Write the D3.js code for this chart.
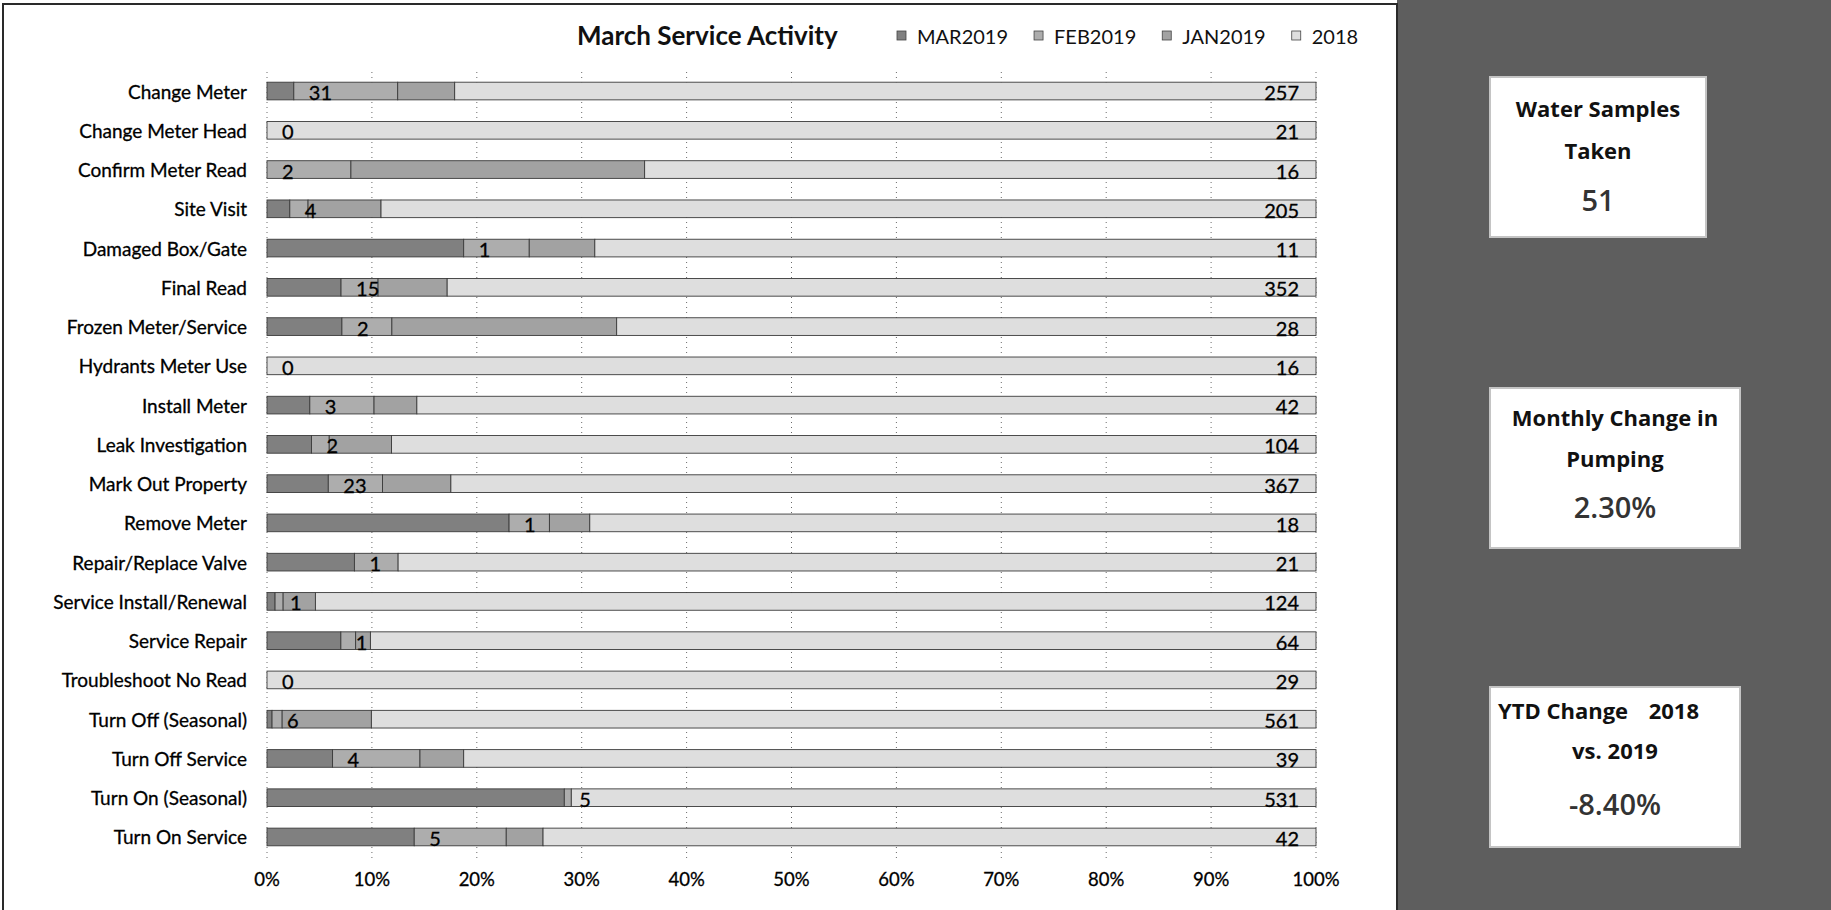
<!DOCTYPE html>
<html>
<head>
<meta charset="utf-8">
<script src="https://cdn.jsdelivr.net/npm/d3@7/dist/d3.min.js"></script>
<style>
  html, body { margin: 0; padding: 0; background: #ffffff; }
  svg { display: block; }
</style>
</head>
<body>
<svg id="chart" width="1831" height="910"></svg>
<script>
// ---------------- DATA ----------------
const categories = [
  "Change Meter", "Change Meter Head", "Confirm Meter Read", "Site Visit",
  "Damaged Box/Gate", "Final Read", "Frozen Meter/Service", "Hydrants Meter Use",
  "Install Meter", "Leak Investigation", "Mark Out Property", "Remove Meter",
  "Repair/Replace Valve", "Service Install/Renewal", "Service Repair",
  "Troubleshoot No Read", "Turn Off (Seasonal)", "Turn Off Service",
  "Turn On (Seasonal)", "Turn On Service"
];
const seriesNames = ["MAR2019", "FEB2019", "JAN2019", "2018"];
const mar2019 = [8, 0, 0, 5, 3, 30, 3, 0, 2, 5, 26, 6, 2, 1, 5, 0, 3, 3, 212, 8];
const feb2019 = [31, 0, 2, 4, 1, 15, 2, 0, 3, 2, 23, 1, 1, 1, 1, 0, 6, 4, 5, 5];
const jan2019 = [17, 0, 7, 16, 1, 28, 9, 0, 2, 7, 29, 1, 0, 4, 1, 0, 53, 2, 0, 2];
const y2018   = [257, 21, 16, 205, 11, 352, 28, 16, 42, 104, 367, 18, 21, 124, 64, 29, 561, 39, 531, 42];
const xTicks = [0, 0.1, 0.2, 0.3, 0.4, 0.5, 0.6, 0.7, 0.8, 0.9, 1.0];

const kpiTitles = [["Water Samples", "Taken"], ["Monthly Change in", "Pumping"], ["YTD Change|2018", "vs. 2019"]];
const kpiValues = ["51", "2.30%", "-8.40%"];

// ---------------- SETUP ----------------
const svg = d3.select("#chart");
const colors = ["#808080", "#adadad", "#a2a2a2", "#dedede"];
const chartFont = "Lato, 'Open Sans', sans-serif";

// right dark panel
svg.append("rect").attr("x", 1397).attr("y", 0).attr("width", 434).attr("height", 910).attr("fill", "#5e5e5e");
// chart frame
svg.append("rect").attr("x", 3).attr("y", 4).attr("width", 1394).attr("height", 920)
  .attr("fill", "#ffffff").attr("stroke", "#2a2a2a").attr("stroke-width", 2);

const x = d3.scaleLinear().domain([0, 1]).range([267, 1316]);
const y = d3.scaleBand().domain(categories).range([71.4, 856.6]).paddingInner(0.55).paddingOuter(0.275);

// gridlines
svg.append("g").selectAll("line").data(xTicks).join("line")
  .attr("x1", d => x(d)).attr("x2", d => x(d))
  .attr("y1", 72).attr("y2", 858)
  .attr("stroke", "#6a6a6a").attr("stroke-width", 1).attr("stroke-dasharray", "1,4");

// tick labels
svg.append("g").selectAll("text").data(xTicks).join("text")
  .attr("x", d => x(d)).attr("y", 879)
  .attr("text-anchor", "middle").attr("dominant-baseline", "central")
  .attr("font-family", chartFont).attr("font-size", 18.5).attr("fill", "#000")
  .attr("stroke", "#000").attr("stroke-width", 0.3)
  .text(d => d3.format(".0%")(d));

// stacked data (100%)
const rows = categories.map((c, i) => ({
  cat: c, MAR2019: mar2019[i], FEB2019: feb2019[i], JAN2019: jan2019[i], "2018": y2018[i]
}));
const stack = d3.stack().keys(seriesNames).offset(d3.stackOffsetExpand);
const stacked = stack(rows);

const gBars = svg.append("g");
stacked.forEach((layer, li) => {
  gBars.append("g").selectAll("rect").data(layer).join("rect")
    .attr("x", d => x(d[0]))
    .attr("y", d => y(d.data.cat))
    .attr("width", d => Math.max(0, x(d[1]) - x(d[0])))
    .attr("height", y.bandwidth())
    .attr("fill", colors[li])
    .attr("stroke", "#3a3a3a").attr("stroke-width", 0.9);
});

// FEB labels (inside base of FEB segment)
svg.append("g").selectAll("text").data(stacked[1]).join("text")
  .attr("x", d => x(d[0]) + 15)
  .attr("y", d => y(d.data.cat) + y.bandwidth() / 2 + 1)
  .attr("dominant-baseline", "central")
  .attr("font-family", chartFont).attr("font-size", 20).attr("fill", "#000")
  .attr("stroke", "#000").attr("stroke-width", 0.3)
  .text(d => d.data.FEB2019);

// 2018 labels (inside end)
svg.append("g").selectAll("text").data(stacked[3]).join("text")
  .attr("x", d => x(d[1]) - 17)
  .attr("y", d => y(d.data.cat) + y.bandwidth() / 2 + 1)
  .attr("text-anchor", "end").attr("dominant-baseline", "central")
  .attr("font-family", chartFont).attr("font-size", 20).attr("fill", "#000")
  .attr("stroke", "#000").attr("stroke-width", 0.3)
  .text(d => d.data["2018"]);

// category labels
svg.append("g").selectAll("text").data(categories).join("text")
  .attr("x", 247).attr("y", d => y(d) + y.bandwidth() / 2)
  .attr("text-anchor", "end").attr("dominant-baseline", "central")
  .attr("font-family", chartFont).attr("font-size", 19).attr("fill", "#000")
  .attr("stroke", "#000").attr("stroke-width", 0.3)
  .text(d => d);

// title
svg.append("text").attr("x", 577).attr("y", 35)
  .attr("dominant-baseline", "central")
  .attr("font-family", chartFont).attr("font-weight", "bold").attr("font-size", 26).attr("fill", "#111")
  .text("March Service Activity");

// legend
let lx = 897;
seriesNames.forEach((s, i) => {
  svg.append("rect").attr("x", lx).attr("y", 31).attr("width", 9).attr("height", 9)
    .attr("fill", colors[i]).attr("stroke", "#444").attr("stroke-width", 0.8);
  const t = svg.append("text").attr("x", lx + 20).attr("y", 36)
    .attr("dominant-baseline", "central")
    .attr("font-family", chartFont).attr("font-size", 20).attr("fill", "#111")
    .text(s);
  lx += 20 + t.node().getComputedTextLength() + 26;
});

// KPI boxes
const boxTops = [77, 388, 687];
const boxWidths = [216, 250, 250];
const boxX = 1490, boxH = 160;
const titleOffsets = [[31, 73], [29, 70], [23, 63]];
const valueOffsets = [122, 118, 116];
kpiTitles.forEach((lines, i) => {
  const top = boxTops[i];
  const boxW = boxWidths[i];
  svg.append("rect").attr("x", boxX).attr("y", top).attr("width", boxW).attr("height", boxH)
    .attr("fill", "#ffffff").attr("stroke", "#c4c4c4").attr("stroke-width", 2);
  const cx = boxX + boxW / 2;
  lines.forEach((ln, j) => {
    const ty = top + titleOffsets[i][j];
    if (ln.includes("|")) {
      const parts = ln.split("|");
      svg.append("text").attr("x", boxX + 8).attr("y", ty)
        .attr("dominant-baseline", "central")
        .attr("font-family", "'Open Sans', sans-serif").attr("font-weight", "bold").attr("font-size", 22).attr("fill", "#111")
        .text(parts[0]);
      svg.append("text").attr("x", boxX + 209).attr("y", ty)
        .attr("text-anchor", "end").attr("dominant-baseline", "central")
        .attr("font-family", "'Open Sans', sans-serif").attr("font-weight", "bold").attr("font-size", 22).attr("fill", "#111")
        .text(parts[1]);
    } else {
      svg.append("text").attr("x", cx).attr("y", ty)
        .attr("text-anchor", "middle").attr("dominant-baseline", "central")
        .attr("font-family", "'Open Sans', sans-serif").attr("font-weight", "bold").attr("font-size", 22).attr("fill", "#111")
        .text(ln);
    }
  });
  svg.append("text").attr("x", cx).attr("y", top + valueOffsets[i])
    .attr("text-anchor", "middle").attr("dominant-baseline", "central")
    .attr("font-family", "'Open Sans', sans-serif").attr("font-weight", 600).attr("font-size", 29).attr("fill", "#333")
    .text(kpiValues[i]);
});
</script>
</body>
</html>
